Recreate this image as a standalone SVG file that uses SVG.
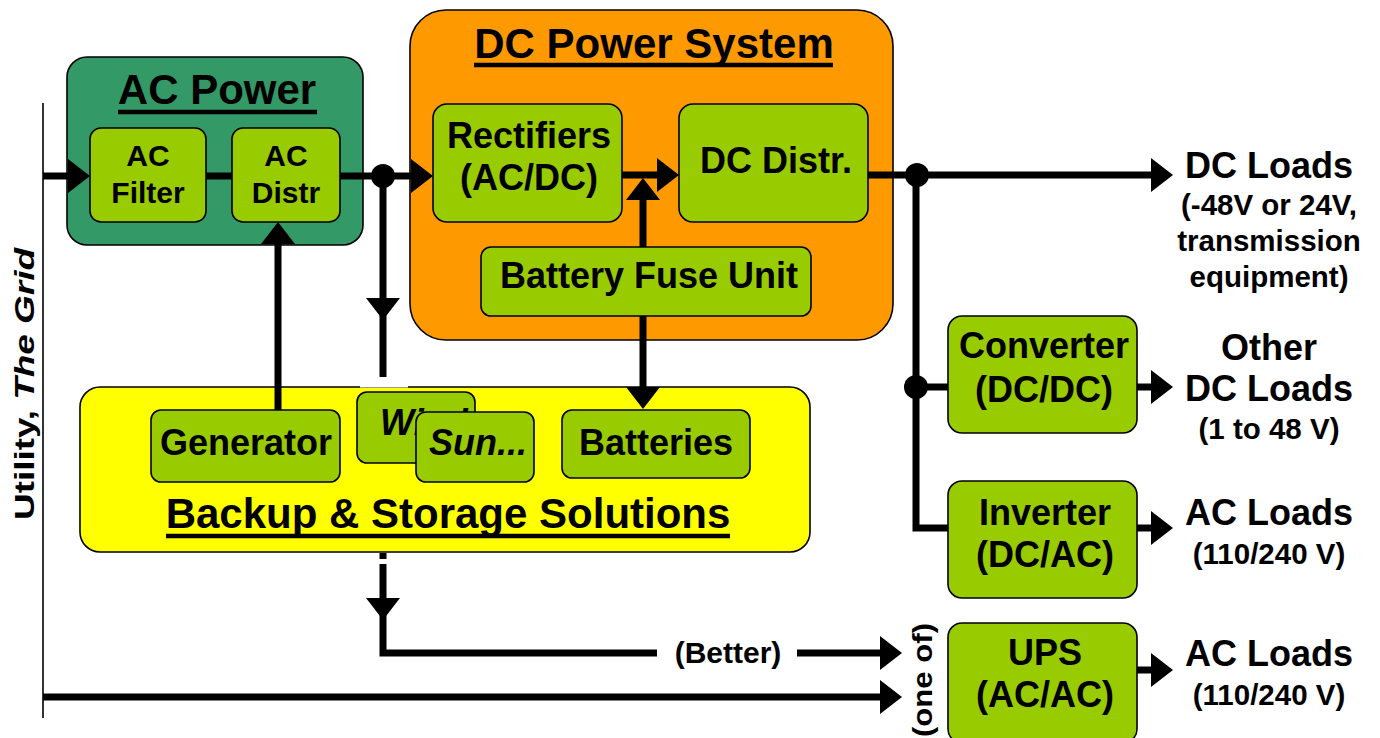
<svg xmlns="http://www.w3.org/2000/svg" width="1380" height="738" viewBox="0 0 1380 738">
<style>
text{font-family:"Liberation Sans",Arial,Helvetica,sans-serif;font-weight:bold;fill:#000;text-anchor:middle}
.t{font-size:42px}
.n{font-size:36px}
.s{font-size:30px}
.m{font-size:29.5px}
.i{font-style:italic}
.box{fill:#99CC00;stroke:#000;stroke-width:1.6}
.ul{stroke:#000;stroke-width:4.5}
.c{fill:none;stroke:#000;stroke-width:7}
.a{marker-end:url(#ah)}
</style>
<defs>
<marker id="ah" markerUnits="userSpaceOnUse" markerWidth="24" markerHeight="36" refX="2" refY="17" orient="auto" overflow="visible">
<path d="M0,0 L22,17 L0,34 Z" fill="#000"/>
</marker>
</defs>
<rect width="1380" height="738" fill="#fff"/>

<g id="utility">
<line x1="43" y1="103" x2="43" y2="718" stroke="#000" stroke-width="1.6"/>
<text x="34" y="384" font-size="28" textLength="272" lengthAdjust="spacingAndGlyphs" transform="rotate(-90 34 384)">Utility, <tspan font-style="italic">The Grid</tspan></text>
</g>

<g id="ac-power">
<rect x="67" y="57" width="296" height="188" rx="20" fill="#339966" stroke="#000" stroke-width="1.6"/>
<text class="t" x="217" y="104">AC Power</text>
<line class="ul" x1="118" y1="112" x2="317" y2="112"/>
</g>
<g id="ac-filter">
<rect class="box" x="90" y="128" width="116" height="94" rx="11"/>
<text class="s" x="148" y="166">AC</text>
<text class="s" x="148" y="203">Filter</text>
</g>
<g id="ac-distr">
<rect class="box" x="232" y="128" width="108" height="94" rx="11"/>
<text class="s" x="286" y="166">AC</text>
<text class="s" x="286" y="203">Distr</text>
</g>

<g id="dc-power">
<rect x="410" y="10" width="483" height="330" rx="36" fill="#FF9900" stroke="#000" stroke-width="1.6"/>
<text x="654" y="58" font-size="42">DC Power System</text>
<line class="ul" x1="474" y1="65" x2="833" y2="65"/>
</g>
<g id="rectifiers">
<rect class="box" x="433" y="104" width="189" height="118" rx="14"/>
<text class="n" x="529" y="148">Rectifiers</text>
<text class="n" x="529" y="190">(AC/DC)</text>
</g>
<g id="dc-distr">
<rect class="box" x="679" y="104" width="189" height="118" rx="14"/>
<text class="n" x="776" y="173">DC Distr.</text>
</g>
<g id="battery-fuse">
<rect class="box" x="481" y="247" width="330" height="69" rx="10"/>
<text class="n" x="649" y="288">Battery Fuse Unit</text>
</g>

<g id="backup">
<rect x="80" y="387" width="730" height="165" rx="20" fill="#FFFF00" stroke="#000" stroke-width="1.6"/>
<text class="t" x="448" y="528">Backup &amp; Storage Solutions</text>
<line class="ul" x1="166" y1="536" x2="730" y2="536"/>
</g>
<g id="generator">
<rect class="box" x="151" y="410" width="189" height="72" rx="10"/>
<text class="n" x="246" y="455">Generator</text>
</g>
<g id="wind">
<rect class="box" x="357" y="392" width="118" height="71" rx="10"/>
<text class="n i" x="380" y="435" style="text-anchor:start">Wind...</text>
</g>
<g id="sun">
<rect class="box" x="416" y="412" width="118" height="70" rx="10"/>
<text class="n i" x="478" y="455">Sun...</text>
</g>
<g id="batteries">
<rect class="box" x="562" y="410" width="188" height="68" rx="10"/>
<text class="n" x="656" y="455">Batteries</text>
</g>

<g id="converter">
<rect class="box" x="948" y="316" width="189" height="117" rx="14"/>
<text class="n" x="1044" y="358">Converter</text>
<text class="n" x="1044" y="402">(DC/DC)</text>
</g>
<g id="inverter">
<rect class="box" x="948" y="481" width="189" height="117" rx="14"/>
<text class="n" x="1045" y="525">Inverter</text>
<text class="n" x="1045" y="567">(DC/AC)</text>
</g>
<g id="ups">
<rect class="box" x="948" y="623" width="189" height="120" rx="14"/>
<text class="n" x="1045" y="665">UPS</text>
<text class="n" x="1045" y="707">(AC/AC)</text>
</g>

<g id="loads">
<text class="n" x="1269" y="178">DC Loads</text>
<text class="m" x="1269" y="215">(-48V or 24V,</text>
<text class="m" x="1269" y="251">transmission</text>
<text class="m" x="1269" y="287">equipment)</text>
<text class="n" x="1269" y="360">Other</text>
<text class="n" x="1269" y="401">DC Loads</text>
<text class="m" x="1269" y="439">(1 to 48 V)</text>
<text class="n" x="1269" y="525">AC Loads</text>
<text class="m" x="1269" y="564">(110/240 V)</text>
<text class="n" x="1269" y="666">AC Loads</text>
<text class="m" x="1269" y="705">(110/240 V)</text>
</g>

<g id="connectors">
<line class="c a" x1="43" y1="176" x2="70" y2="176"/>
<line class="c" x1="206" y1="176" x2="232" y2="176"/>
<line class="c a" x1="340" y1="176" x2="413" y2="176"/>
<circle cx="383" cy="176" r="12" fill="#000"/>
<line class="c a" x1="383" y1="176" x2="383" y2="300"/>
<line class="c" x1="383" y1="298" x2="383" y2="377"/>
<rect x="360" y="384" width="48" height="3.5" fill="#fff"/>
<line class="c" x1="383" y1="553" x2="383" y2="559"/>
<line class="c a" x1="383" y1="564" x2="383" y2="600"/>
<polyline class="c" points="383,598 383,653 657,653"/>
<text class="s" x="728" y="663">(Better)</text>
<line class="c a" x1="797" y1="653" x2="882" y2="653"/>
<line class="c a" x1="43" y1="697" x2="882" y2="697"/>
<text x="932" y="680" font-size="27" textLength="114" lengthAdjust="spacingAndGlyphs" transform="rotate(-90 932 680)">(one of)</text>
<line class="c a" x1="278" y1="410" x2="278" y2="242"/>
<line class="c a" x1="622" y1="175" x2="659" y2="175"/>
<line class="c a" x1="643" y1="247" x2="643" y2="198"/>
<line class="c a" x1="643" y1="316" x2="643" y2="389"/>
<line class="c a" x1="868" y1="175" x2="1153" y2="175"/>
<circle cx="917" cy="175" r="12" fill="#000"/>
<polyline class="c" points="916,175 916,528 948,528"/>
<circle cx="916" cy="387" r="12" fill="#000"/>
<line class="c" x1="916" y1="387" x2="948" y2="387"/>
<line class="c a" x1="1137" y1="387" x2="1153" y2="387"/>
<line class="c a" x1="1137" y1="528" x2="1153" y2="528"/>
<line class="c a" x1="1137" y1="670" x2="1153" y2="670"/>
</g>
</svg>
